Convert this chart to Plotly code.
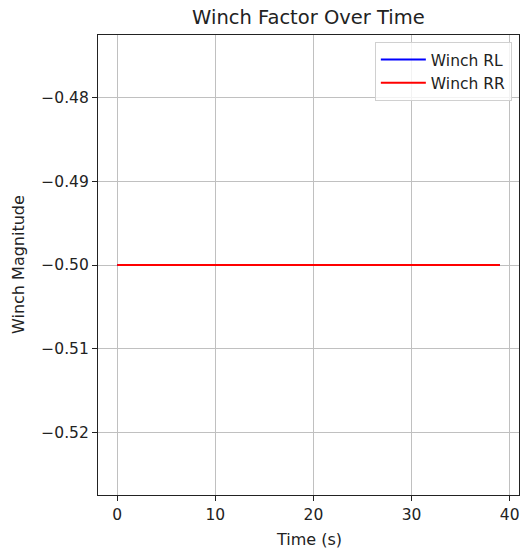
import plotly.graph_objects as go

time_s = [0, 1, 2, 3, 4, 5, 6, 7, 8, 9, 10, 11, 12, 13, 14, 15, 16, 17, 18, 19,
          20, 21, 22, 23, 24, 25, 26, 27, 28, 29, 30, 31, 32, 33, 34, 35, 36, 37, 38, 39]
winch_rl = [-0.5] * 40
winch_rr = [-0.5] * 40
x_ticks = [0, 10, 20, 30, 40]
y_ticks = [-0.48, -0.49, -0.50, -0.51, -0.52]
y_tick_text = ["\u22120.48", "\u22120.49", "\u22120.50", "\u22120.51", "\u22120.52"]

font = "DejaVu Sans, sans-serif"

fig = go.Figure()
fig.add_trace(go.Scatter(x=time_s, y=winch_rl, mode="lines", name="Winch RL",
                         line=dict(color="#0000ff", width=2)))
fig.add_trace(go.Scatter(x=time_s, y=winch_rr, mode="lines", name="Winch RR",
                         line=dict(color="#ff0000", width=2)))

axis_common = dict(showline=True, linecolor="#222222", linewidth=1.2, mirror=True,
                   ticks="outside", ticklen=5, tickcolor="#222222",
                   showgrid=True, gridcolor="#c0c0c0", gridwidth=1, zeroline=False,
                   tickfont=dict(family=font, size=15.5, color="#222222"))

fig.update_layout(
    width=521, height=552,
    margin=dict(l=98, r=2, t=35, b=57),
    paper_bgcolor="white", plot_bgcolor="white",
    font=dict(family=font, size=16, color="#222222"),
    title=dict(text="Winch Factor Over Time", x=0.592, xanchor="center",
               y=0.968, yanchor="middle", font=dict(family=font, size=19.5, color="#222222")),
    xaxis=dict(range=[-1.95, 40.95], tickvals=x_ticks, **axis_common),
    yaxis=dict(range=[-0.5275, -0.4725], tickvals=y_ticks, ticktext=y_tick_text,
               **axis_common),
    legend=dict(x=0.983, y=0.985, xanchor="right", yanchor="top",
                bgcolor="rgba(255,255,255,0.8)", bordercolor="#d0d0d0", borderwidth=1,
                font=dict(family=font, size=15.5, color="#222222"), tracegroupgap=0,
                itemwidth=45),
    annotations=[
        dict(text="Time (s)", xref="paper", yref="paper", x=0.5, y=-(539 - 495) / 460,
             xanchor="center", yanchor="middle", showarrow=False,
             font=dict(family=font, size=16, color="#222222")),
        dict(text="Winch Magnitude", xref="paper", yref="paper", x=(18 - 98) / 421, y=0.5,
             xanchor="center", yanchor="middle", textangle=-90, showarrow=False,
             font=dict(family=font, size=16, color="#222222")),
    ],
    showlegend=True,
)

fig.write_html("out.html")
